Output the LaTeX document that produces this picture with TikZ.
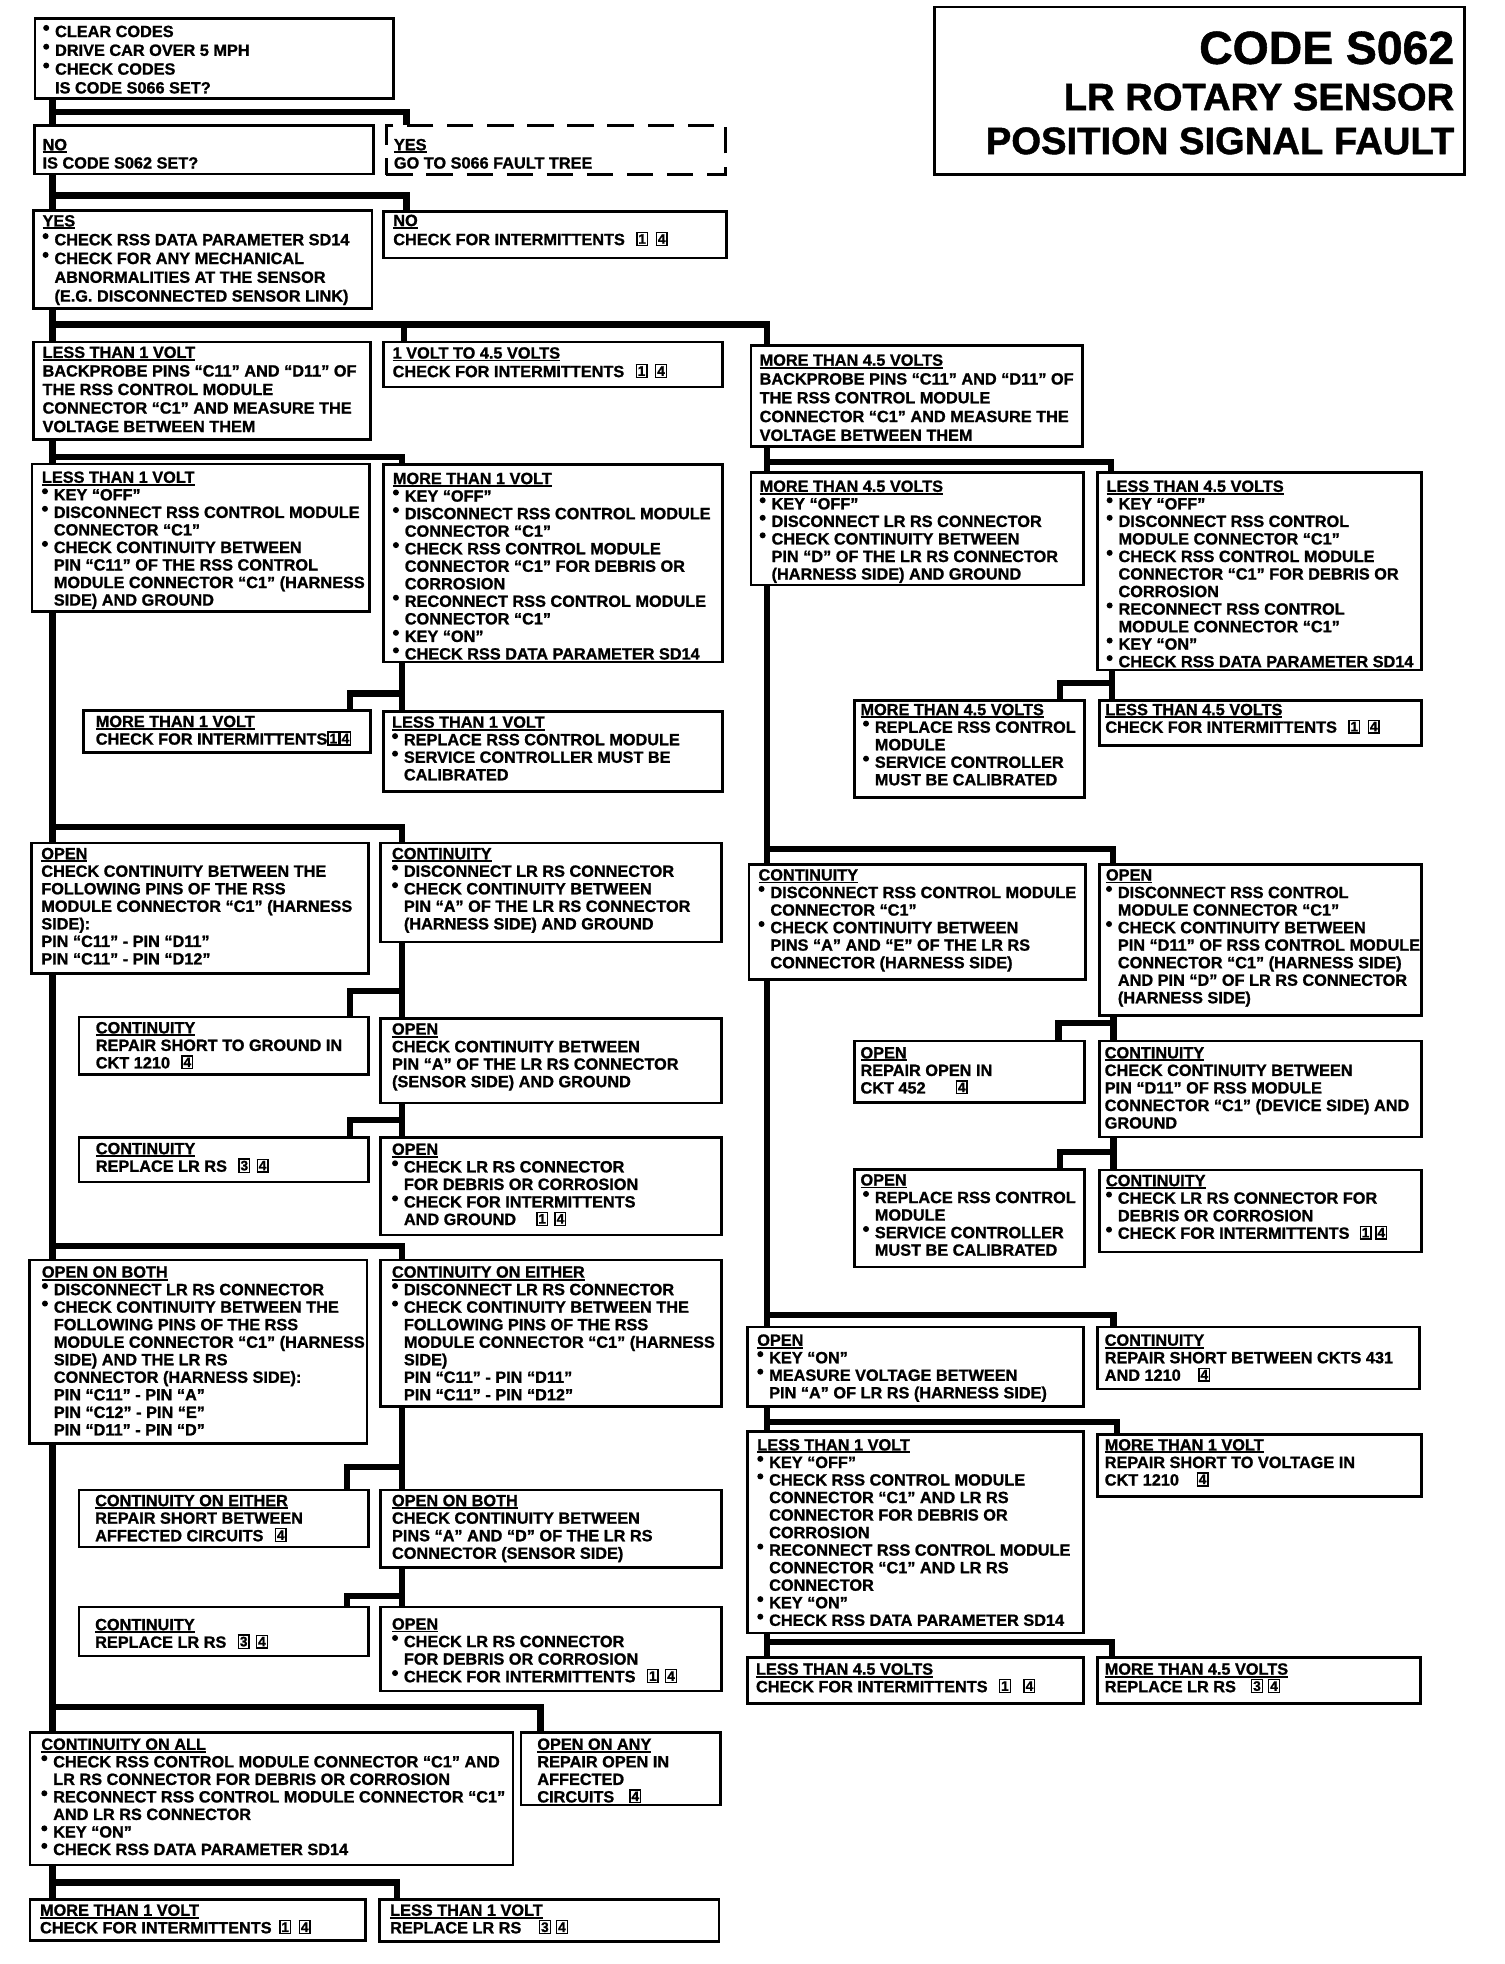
\documentclass[tikz,border=0pt]{standalone}
\usepackage{fontspec}
\setmainfont{Liberation Sans}[BoldFeatures={FakeBold=1.2}]
\usepackage{graphicx}
\newlength\bi \setlength\bi{9.5pt}
\newcommand\bl{\makebox[\bi][l]{\tikz[baseline=-7.3pt]\fill (2.4pt,0pt) circle[radius=2.4pt];}}
\newcommand\ct{\hspace*{\bi}}
\newcommand\bll{\hspace*{2pt}\bl}
\newcommand\ctt{\hspace*{11.5pt}}
\newcommand\hd[1]{\setbox0\hbox{#1}\rlap{\rule[-2.3pt]{\wd0}{1.5pt}}\box0}
\newcommand\nb[1]{\raisebox{1.1pt}{\setlength\fboxsep{0.8pt}\setlength\fboxrule{1.1pt}\fbox{\makebox[5.8pt]{\fontsize{11}{11}\selectfont #1}}}}
\tikzset{
  box/.style={draw, line width=2.2pt, inner sep=0pt, outer sep=0pt},
  dbox/.style={box, dash pattern=on 21pt off 11pt},
  bxs/.style={box},
  txt/.style={inner sep=0pt, outer sep=0pt, align=left, anchor=north west},
  ttl/.style={inner sep=0pt, outer sep=0pt, font=\fontsize{30.5}{36}\selectfont\bfseries},
  conn/.style={line width=5pt, line join=miter}
}
\pgfkeys{/bx/.is family, /bx,
  pad/.store in=\bxpad, fb/.store in=\bxfb, bsk/.store in=\bxbsk,
  dsh/.code={\tikzset{bxs/.style={dbox}}}}
\newcommand\bx[7][]{%
  \begingroup
  \tikzset{bxs/.style={box}}%
  \pgfkeys{/bx, pad=7.5, fb=14, bsk=14, #1}%
  \pgfmathsetmacro\bxw{#5-#3}%
  \pgfmathsetmacro\bxh{#6-#4}%
  \pgfmathsetmacro\bxys{10-\bxfb}%
  \node[bxs, minimum width=\bxw pt, minimum height=\bxh pt, anchor=north west] (#2) at (#3,#4) {};%
  \node[txt, font=\fontsize{13}{\bxbsk}\selectfont\bfseries] (#2t) at ([xshift=\bxpad pt, yshift=\bxys pt]#2.north west) {\rule{0pt}{10pt}#7};%
  \endgroup}
\begin{document}
\begin{tikzpicture}[x=1pt,y=-1pt]
\useasboundingbox (0,0) rectangle (1201,1568);
\fill[white] (0,0) rectangle (1201,1568);

% title
\node[box, minimum width=423pt, minimum height=134pt, anchor=north west] (title) at (746,5.5) {};
\node[ttl, anchor=base east] (t1) at (1161,51) {\fontsize{37}{40}\selectfont CODE S062};
\node[ttl, anchor=base east] (t2) at (1161,88) {LR ROTARY SENSOR};
\node[ttl, anchor=base east] (t3) at (1161,123) {POSITION SIGNAL FAULT};

% left column boxes
\bx[pad=6.5,bsk=15,fb=14.6]{A}{28}{15}{314}{78.5}{\bl CLEAR CODES\\\bl DRIVE CAR OVER 5 MPH\\\bl CHECK CODES\\\ct IS CODE S066 SET?}
\bx[pad=6.5,fb=20,bsk=14.6]{B}{27.5}{100}{298}{139}{\hd{NO}\\IS CODE S062 SET?}
\bx[dsh,pad=6,fb=20,bsk=14.6]{C}{308.5}{100}{579.5}{139.5}{\hd{YES}\\GO TO S066 FAULT TREE}
\bx[pad=7,fb=12.8,bsk=15]{D}{27}{168}{297}{246}{\hd{YES}\\\bl CHECK RSS DATA PARAMETER SD14\\\bl CHECK FOR ANY MECHANICAL\\\ct ABNORMALITIES AT THE SENSOR\\\ct (E.G. DISCONNECTED SENSOR LINK)}
\bx[pad=8,fb=11.5,bsk=15.2]{E}{306}{169}{580}{206}{\hd{NO}\\CHECK FOR INTERMITTENTS\hspace{9pt}\nb1\hspace{6pt}\nb4}
\bx[pad=7,fb=12.8,bsk=14.8]{F1}{27}{273}{296}{351}{\hd{LESS THAN 1 VOLT}\\BACKPROBE PINS “C11” AND “D11” OF\\THE RSS CONTROL MODULE\\CONNECTOR “C1” AND MEASURE THE\\VOLTAGE BETWEEN THEM}
\bx[pad=7.5,fb=13.3,bsk=14.8]{F2}{306}{273}{577}{309}{\hd{1 VOLT TO 4.5 VOLTS}\\CHECK FOR INTERMITTENTS\hspace{9pt}\nb1\hspace{6pt}\nb4}
\bx[pad=7,fb=16,bsk=15]{F3}{599.5}{276}{864}{356.5}{\hd{MORE THAN 4.5 VOLTS}\\BACKPROBE PINS “C11” AND “D11” OF\\THE RSS CONTROL MODULE\\CONNECTOR “C1” AND MEASURE THE\\VOLTAGE BETWEEN THEM}
\bx[pad=8,fb=15]{G1}{25.5}{370.5}{295}{488.5}{\hd{LESS THAN 1 VOLT}\\\bl KEY “OFF”\\\bl DISCONNECT RSS CONTROL MODULE\\\ct CONNECTOR “C1”\\\bl CHECK CONTINUITY BETWEEN\\\ct PIN “C11” OF THE RSS CONTROL\\\ct MODULE CONNECTOR “C1” (HARNESS\\\ct SIDE) AND GROUND}
\bx[pad=7.7,fb=15.5]{G2}{306}{371}{577}{528.5}{\hd{MORE THAN 1 VOLT}\\\bl KEY “OFF”\\\bl DISCONNECT RSS CONTROL MODULE\\\ct CONNECTOR “C1”\\\bl CHECK RSS CONTROL MODULE\\\ct CONNECTOR “C1” FOR DEBRIS OR\\\ct CORROSION\\\bl RECONNECT RSS CONTROL MODULE\\\ct CONNECTOR “C1”\\\bl KEY “ON”\\\bl CHECK RSS DATA PARAMETER SD14}
\bx[pad=10,fb=13]{I1}{66.5}{567.5}{296}{601}{\hd{MORE THAN 1 VOLT}\\CHECK FOR INTERMITTENTS\nb1\nb4}
\bx[pad=7,fb=13]{I2}{306}{568}{577}{632}{\hd{LESS THAN 1 VOLT}\\\bl REPLACE RSS CONTROL MODULE\\\bl SERVICE CONTROLLER MUST BE\\\ct CALIBRATED}
\bx[pad=8,fb=13]{K1}{25}{673}{294}{777}{\hd{OPEN}\\CHECK CONTINUITY BETWEEN THE\\FOLLOWING PINS OF THE RSS\\MODULE CONNECTOR “C1” (HARNESS\\SIDE):\\PIN “C11” - PIN “D11”\\PIN “C11” - PIN “D12”}
\bx[pad=9,fb=13]{K2}{304}{673}{576}{752}{\hd{CONTINUITY}\\\bl DISCONNECT LR RS CONNECTOR\\\bl CHECK CONTINUITY BETWEEN\\\ct PIN “A” OF THE LR RS CONNECTOR\\\ct (HARNESS SIDE) AND GROUND}
\bx[pad=13.5,fb=13]{L1}{63}{812}{294}{858}{\hd{CONTINUITY}\\REPAIR SHORT TO GROUND IN\\CKT 1210\hspace{9pt}\nb4}
\bx[pad=9,fb=13]{L2}{304}{813}{576}{880.5}{\hd{OPEN}\\CHECK CONTINUITY BETWEEN\\PIN “A” OF THE LR RS CONNECTOR\\(SENSOR SIDE) AND GROUND}
\bx[pad=13.5,fb=13.5]{M1}{63}{908}{294}{943.6}{\hd{CONTINUITY}\\REPLACE LR RS\hspace{9pt}\nb3\hspace{5pt}\nb4}
\bx[pad=9,fb=14]{M2}{304}{908}{576}{986}{\hd{OPEN}\\\bl CHECK LR RS CONNECTOR\\\ct FOR DEBRIS OR CORROSION\\\bl CHECK FOR INTERMITTENTS\\\ct AND GROUND\hspace{16pt}\nb1\hspace{5pt}\nb4}
\bx[pad=10,fb=14]{N1}{23.5}{1006}{293}{1152.6}{\hd{OPEN ON BOTH}\\\bl DISCONNECT LR RS CONNECTOR\\\bl CHECK CONTINUITY BETWEEN THE\\\ct FOLLOWING PINS OF THE RSS\\\ct MODULE CONNECTOR “C1” (HARNESS\\\ct SIDE) AND THE LR RS\\\ct CONNECTOR (HARNESS SIDE):\\\ct PIN “C11” - PIN “A”\\\ct PIN “C12” - PIN “E”\\\ct PIN “D11” - PIN “D”}
\bx[pad=9,fb=14]{N2}{304}{1006}{576}{1123}{\hd{CONTINUITY ON EITHER}\\\bl DISCONNECT LR RS CONNECTOR\\\bl CHECK CONTINUITY BETWEEN THE\\\ct FOLLOWING PINS OF THE RSS\\\ct MODULE CONNECTOR “C1” (HARNESS\\\ct SIDE)\\\ct PIN “C11” - PIN “D11”\\\ct PIN “C11” - PIN “D12”}
\bx[pad=13,fb=13]{O1}{63}{1189.5}{294}{1235}{\hd{CONTINUITY ON EITHER}\\REPAIR SHORT BETWEEN\\AFFECTED CIRCUITS\hspace{9pt}\nb4}
\bx[pad=9,fb=13]{O2}{304}{1189.5}{576}{1251.5}{\hd{OPEN ON BOTH}\\CHECK CONTINUITY BETWEEN\\PINS “A” AND “D” OF THE LR RS\\CONNECTOR (SENSOR SIDE)}
\bx[pad=13,fb=18.5]{P1}{63}{1283}{294}{1322}{\hd{CONTINUITY}\\REPLACE LR RS\hspace{9pt}\nb3\hspace{5pt}\nb4}
\bx[pad=9,fb=18]{P2}{304}{1283}{576}{1350}{\hd{OPEN}\\\bl CHECK LR RS CONNECTOR\\\ct FOR DEBRIS OR CORROSION\\\bl CHECK FOR INTERMITTENTS\hspace{9pt}\nb1\hspace{5pt}\nb4}
\bx[pad=9,fb=14]{Q1}{24}{1383}{409.5}{1489}{\hd{CONTINUITY ON ALL}\\\bl CHECK RSS CONTROL MODULE CONNECTOR “C1” AND\\\ct LR RS CONNECTOR FOR DEBRIS OR CORROSION\\\bl RECONNECT RSS CONTROL MODULE CONNECTOR “C1”\\\ct AND LR RS CONNECTOR\\\bl KEY “ON”\\\bl CHECK RSS DATA PARAMETER SD14}
\bx[pad=13,fb=14]{Q2}{416}{1383}{575}{1441}{\hd{OPEN ON ANY}\\REPAIR OPEN IN\\AFFECTED\\CIRCUITS\hspace{12pt}\nb4}
\bx[pad=8,fb=13]{R1}{24}{1516.5}{292}{1549}{\hd{MORE THAN 1 VOLT}\\CHECK FOR INTERMITTENTS\hspace{6pt}\nb1\hspace{6pt}\nb4}
\bx[pad=8.5,fb=13]{R2}{303}{1516.5}{574}{1550}{\hd{LESS THAN 1 VOLT}\\REPLACE LR RS\hspace{14pt}\nb3\hspace{4pt}\nb4}

% right column boxes
\bx[pad=7,fb=15.2]{H1}{599.5}{377.5}{865}{467}{\hd{MORE THAN 4.5 VOLTS}\\\bl KEY “OFF”\\\bl DISCONNECT LR RS CONNECTOR\\\bl CHECK CONTINUITY BETWEEN\\\ct PIN “D” OF THE LR RS CONNECTOR\\\ct (HARNESS SIDE) AND GROUND}
\bx[pad=7,fb=15.2]{H2}{876.5}{377.5}{1135}{535}{\hd{LESS THAN 4.5 VOLTS}\\\bl KEY “OFF”\\\bl DISCONNECT RSS CONTROL\\\ct MODULE CONNECTOR “C1”\\\bl CHECK RSS CONTROL MODULE\\\ct CONNECTOR “C1” FOR DEBRIS OR\\\ct CORROSION\\\bl RECONNECT RSS CONTROL\\\ct MODULE CONNECTOR “C1”\\\bl KEY “ON”\\\bl CHECK RSS DATA PARAMETER SD14}
\bx[pad=5,fb=12]{J1}{682}{559}{866}{636.5}{\hd{MORE THAN 4.5 VOLTS}\\\bll REPLACE RSS CONTROL\\\ctt MODULE\\\bll SERVICE CONTROLLER\\\ctt MUST BE CALIBRATED}
\bx[pad=4.5,fb=12]{J2}{878}{559}{1135}{595}{\hd{LESS THAN 4.5 VOLTS}\\CHECK FOR INTERMITTENTS\hspace{9pt}\nb1\hspace{6pt}\nb4}
\bx[pad=7.6,fb=13]{S1}{598}{690}{866.5}{782}{\hd{CONTINUITY}\\\bl DISCONNECT RSS CONTROL MODULE\\\ct CONNECTOR “C1”\\\bl CHECK CONTINUITY BETWEEN\\\ct PINS “A” AND “E” OF THE LR RS\\\ct CONNECTOR (HARNESS SIDE)}
\bx[pad=5,fb=13]{S2}{878}{690}{1135}{811}{\hd{OPEN}\\\bl DISCONNECT RSS CONTROL\\\ct MODULE CONNECTOR “C1”\\\bl CHECK CONTINUITY BETWEEN\\\ct PIN “D11” OF RSS CONTROL MODULE\\\ct CONNECTOR “C1” (HARNESS SIDE)\\\ct AND PIN “D” OF LR RS CONNECTOR\\\ct (HARNESS SIDE)}
\bx[pad=5,fb=14]{T1}{682}{831}{866}{880}{\hd{OPEN}\\REPAIR OPEN IN\\CKT 452\hspace{24pt}\nb4}
\bx[pad=4,fb=14]{T2}{878}{831}{1135}{907.7}{\hd{CONTINUITY}\\CHECK CONTINUITY BETWEEN\\PIN “D11” OF RSS MODULE\\CONNECTOR “C1” (DEVICE SIDE) AND\\GROUND}
\bx[pad=5,fb=13]{U1}{682}{933.5}{866}{1011.5}{\hd{OPEN}\\\bll REPLACE RSS CONTROL\\\ctt MODULE\\\bll SERVICE CONTROLLER\\\ctt MUST BE CALIBRATED}
\bx[pad=5,fb=13]{U2}{878}{934}{1135}{999.5}{\hd{CONTINUITY}\\\bl CHECK LR RS CONNECTOR FOR\\\ct DEBRIS OR CORROSION\\\bl CHECK FOR INTERMITTENTS\hspace{8pt}\nb1\hspace{3pt}\nb4}
\bx[pad=8,fb=15]{V1}{596.6}{1059.4}{865}{1122.7}{\hd{OPEN}\\\bl KEY “ON”\\\bl MEASURE VOLTAGE BETWEEN\\\ct PIN “A” OF LR RS (HARNESS SIDE)}
\bx[pad=5.5,fb=15]{V2}{876.5}{1059.4}{1133}{1109}{\hd{CONTINUITY}\\REPAIR SHORT BETWEEN CKTS 431\\AND 1210\hspace{14pt}\nb4}
\bx[pad=8,fb=15]{W1}{596.6}{1143}{865}{1303.7}{\hd{LESS THAN 1 VOLT}\\\bl KEY “OFF”\\\bl CHECK RSS CONTROL MODULE\\\ct CONNECTOR “C1” AND LR RS\\\ct CONNECTOR FOR DEBRIS OR\\\ct CORROSION\\\bl RECONNECT RSS CONTROL MODULE\\\ct CONNECTOR “C1” AND LR RS\\\ct CONNECTOR\\\bl KEY “ON”\\\bl CHECK RSS DATA PARAMETER SD14}
\bx[pad=5.5,fb=13]{W2}{876.5}{1145}{1135}{1195}{\hd{MORE THAN 1 VOLT}\\REPAIR SHORT TO VOLTAGE IN\\CKT 1210\hspace{14pt}\nb4}
\bx[pad=7,fb=14]{X1}{596.6}{1323}{865}{1360}{\hd{LESS THAN 4.5 VOLTS}\\CHECK FOR INTERMITTENTS\hspace{9pt}\nb1\hspace{10pt}\nb4}
\bx[pad=5.5,fb=14]{X2}{876.5}{1323}{1134}{1360}{\hd{MORE THAN 4.5 VOLTS}\\REPLACE LR RS\hspace{12pt}\nb3\hspace{4pt}\nb4}

% connector coordinates
\coordinate (xL) at (42,0);
\coordinate (xM) at (321,0);
\coordinate (xR) at (612.5,0);
\coordinate (xH) at (887.5,0);
\coordinate (xS) at (889,0);
\coordinate (jC) at (324.5,89.5);
\coordinate (jE) at (324.5,156);
\coordinate (jF2) at (322.5,259);
\coordinate (jF3) at (612.5,259);
\coordinate (jG2) at (321,365);
\coordinate (jI1) at (279.5,553.6);
\coordinate (jK2) at (321,660.5);
\coordinate (jL1) at (279.5,791);
\coordinate (jM1) at (279.5,894);
\coordinate (jN2) at (321,994.5);
\coordinate (jO1) at (277,1171);
\coordinate (jP1) at (277,1274);
\coordinate (jQ2) at (431.5,1363);
\coordinate (jR2) at (317,1503);
\coordinate (jH2) at (887,369);
\coordinate (jJ1) at (846.5,545);
\coordinate (jS2) at (888.5,678);
\coordinate (jT1) at (845,817);
\coordinate (jU1) at (846,920);
\coordinate (jV2) at (889,1050);
\coordinate (jW2) at (891.5,1135.5);
\coordinate (jX2) at (888,1311);

% left connectors
\draw[conn] (A.south -| xL) -- (B.north -| xL);
\draw[conn] (A.south -| xL) |- (jC) -- (C.north -| jC);
\draw[conn] (B.south -| xL) -- (D.north -| xL);
\draw[conn] (B.south -| xL) |- (jE) -- (E.north -| jE);
\draw[conn] (D.south -| xL) -- (F1.north -| xL);
\draw[conn] (D.south -| xL) |- (jF3) -- (F3.north -| jF3);
\draw[conn] (jF2) -- (F2.north -| jF2);
\draw[conn] (F1.south -| xL) -- (G1.north -| xL);
\draw[conn] (F1.south -| xL) |- (jG2) -- (G2.north -| jG2);
\draw[conn] (G2.south -| xM) -- (I2.north -| xM);
\draw[conn] (G2.south -| xM) |- (jI1) -- (I1.north -| jI1);
\draw[conn] (G1.south -| xL) -- (K1.north -| xL);
\draw[conn] (G1.south -| xL) |- (jK2) -- (K2.north -| jK2);
\draw[conn] (K2.south -| xM) -- (L2.north -| xM);
\draw[conn] (K2.south -| xM) |- (jL1) -- (L1.north -| jL1);
\draw[conn] (L2.south -| xM) -- (M2.north -| xM);
\draw[conn] (L2.south -| xM) |- (jM1) -- (M1.north -| jM1);
\draw[conn] (K1.south -| xL) -- (N1.north -| xL);
\draw[conn] (K1.south -| xL) |- (jN2) -- (N2.north -| jN2);
\draw[conn] (N2.south -| xM) -- (O2.north -| xM);
\draw[conn] (N2.south -| xM) |- (jO1) -- (O1.north -| jO1);
\draw[conn] (O2.south -| xM) -- (P2.north -| xM);
\draw[conn] (O2.south -| xM) |- (jP1) -- (P1.north -| jP1);
\draw[conn] (N1.south -| xL) -- (Q1.north -| xL);
\draw[conn] (N1.south -| xL) |- (jQ2) -- (Q2.north -| jQ2);
\draw[conn] (Q1.south -| xL) -- (R1.north -| xL);
\draw[conn] (Q1.south -| xL) |- (jR2) -- (R2.north -| jR2);

% right connectors
\draw[conn] (F3.south -| xR) -- (H1.north -| xR);
\draw[conn] (F3.south -| xR) |- (jH2) -- (H2.north -| jH2);
\draw[conn] (H2.south -| xH) -- (J2.north -| xH);
\draw[conn] (H2.south -| xH) |- (jJ1) -- (J1.north -| jJ1);
\draw[conn] (H1.south -| xR) -- (S1.north -| xR);
\draw[conn] (H1.south -| xR) |- (jS2) -- (S2.north -| jS2);
\draw[conn] (S2.south -| xS) -- (T2.north -| xS);
\draw[conn] (S2.south -| xS) |- (jT1) -- (T1.north -| jT1);
\draw[conn] (T2.south -| xS) -- (U2.north -| xS);
\draw[conn] (T2.south -| xS) |- (jU1) -- (U1.north -| jU1);
\draw[conn] (S1.south -| xR) -- (V1.north -| xR);
\draw[conn] (S1.south -| xR) |- (jV2) -- (V2.north -| jV2);
\draw[conn] (V1.south -| xR) -- (W1.north -| xR);
\draw[conn] (V1.south -| xR) |- (jW2) -- (W2.north -| jW2);
\draw[conn] (W1.south -| xR) -- (X1.north -| xR);
\draw[conn] (W1.south -| xR) |- (jX2) -- (X2.north -| jX2);
\end{tikzpicture}
\end{document}
